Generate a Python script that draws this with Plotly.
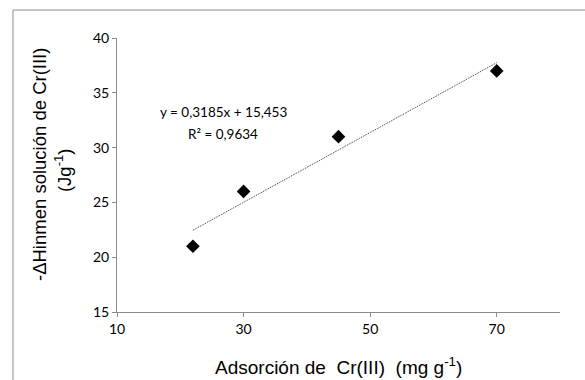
import numpy as np
import plotly.graph_objects as go

# Cr(III) adsorption vs. enthalpy of immersion
adsorcion = [22, 30, 45, 70]          # mg g-1
delta_h = [21, 26, 31, 37]            # J g-1
x_ticks = [10, 30, 50, 70]
y_ticks = [15, 20, 25, 30, 35, 40]

# linear trend line
slope, intercept = np.polyfit(adsorcion, delta_h, 1)
pred = np.polyval([slope, intercept], adsorcion)
ss_res = np.sum((np.array(delta_h) - pred) ** 2)
ss_tot = np.sum((np.array(delta_h) - np.mean(delta_h)) ** 2)
r2 = 1 - ss_res / ss_tot
x_fit = [min(adsorcion), max(adsorcion)]
y_fit = list(np.polyval([slope, intercept], x_fit))

fmt = lambda v, d: f"{v:.{d}f}".replace(".", ",")
eq_line = f"y = {fmt(slope, 4)}x + {fmt(intercept, 3)}"
r2_line = f"R² = {fmt(r2, 4)}"

fig = go.Figure()
fig.add_trace(go.Scatter(
    x=x_fit, y=y_fit, mode="lines",
    line=dict(color="#333333", width=1, dash="1px,1px"),
    hoverinfo="skip", showlegend=False,
))
fig.add_trace(go.Scatter(
    x=adsorcion, y=delta_h, mode="markers",
    marker=dict(symbol="diamond", size=10.5, color="black"),
    showlegend=False,
))

axis_common = dict(
    showgrid=False, zeroline=False, showline=True,
    linecolor="#8c8c8c", linewidth=1,
    ticks="outside", ticklen=4, tickcolor="#8c8c8c",
    tickfont=dict(family="Lato", size=14, color="black"),
)

fig.update_xaxes(range=[10, 80], tickvals=x_ticks, **axis_common)
fig.update_yaxes(range=[15, 40], tickvals=y_ticks, **axis_common)


def label(text, x, y, size, family, angle=0):
    fig.add_annotation(
        x=x, y=y, xref="paper", yref="paper", text=text,
        showarrow=False, xanchor="center", yanchor="middle",
        textangle=angle, font=dict(family=family, size=size, color="black"),
    )


# equation of the fitted line
label(eq_line, 0.2404, 0.730, 13.5, "Lato")
label(r2_line, 0.2404, 0.6496, 13.5, "Lato")

# axis titles
label("Adsorción de  Cr(III)  (mg g<sup>-1</sup>)", 0.501, -0.197, 19, "Liberation Sans")
label("-ΔHinmen solución de Cr(III)", -0.1738, 0.5365, 18.5, "Liberation Sans", -90)
label("(Jg<sup>-1</sup>)", -0.1219, 0.518, 18.5, "Liberation Sans", -90)

# outer chart frame
fig.add_shape(
    type="rect", xref="paper", yref="paper",
    x0=-0.2348, x1=2.0, y0=-1.0, y1=1.102,
    line=dict(color="#8c8c8c", width=1), fillcolor="rgba(0,0,0,0)",
    layer="below",
)

fig.update_layout(
    width=585, height=380,
    margin=dict(l=117, r=25, t=38, b=68),
    paper_bgcolor="white", plot_bgcolor="white",
)

fig.write_html("out.html")
